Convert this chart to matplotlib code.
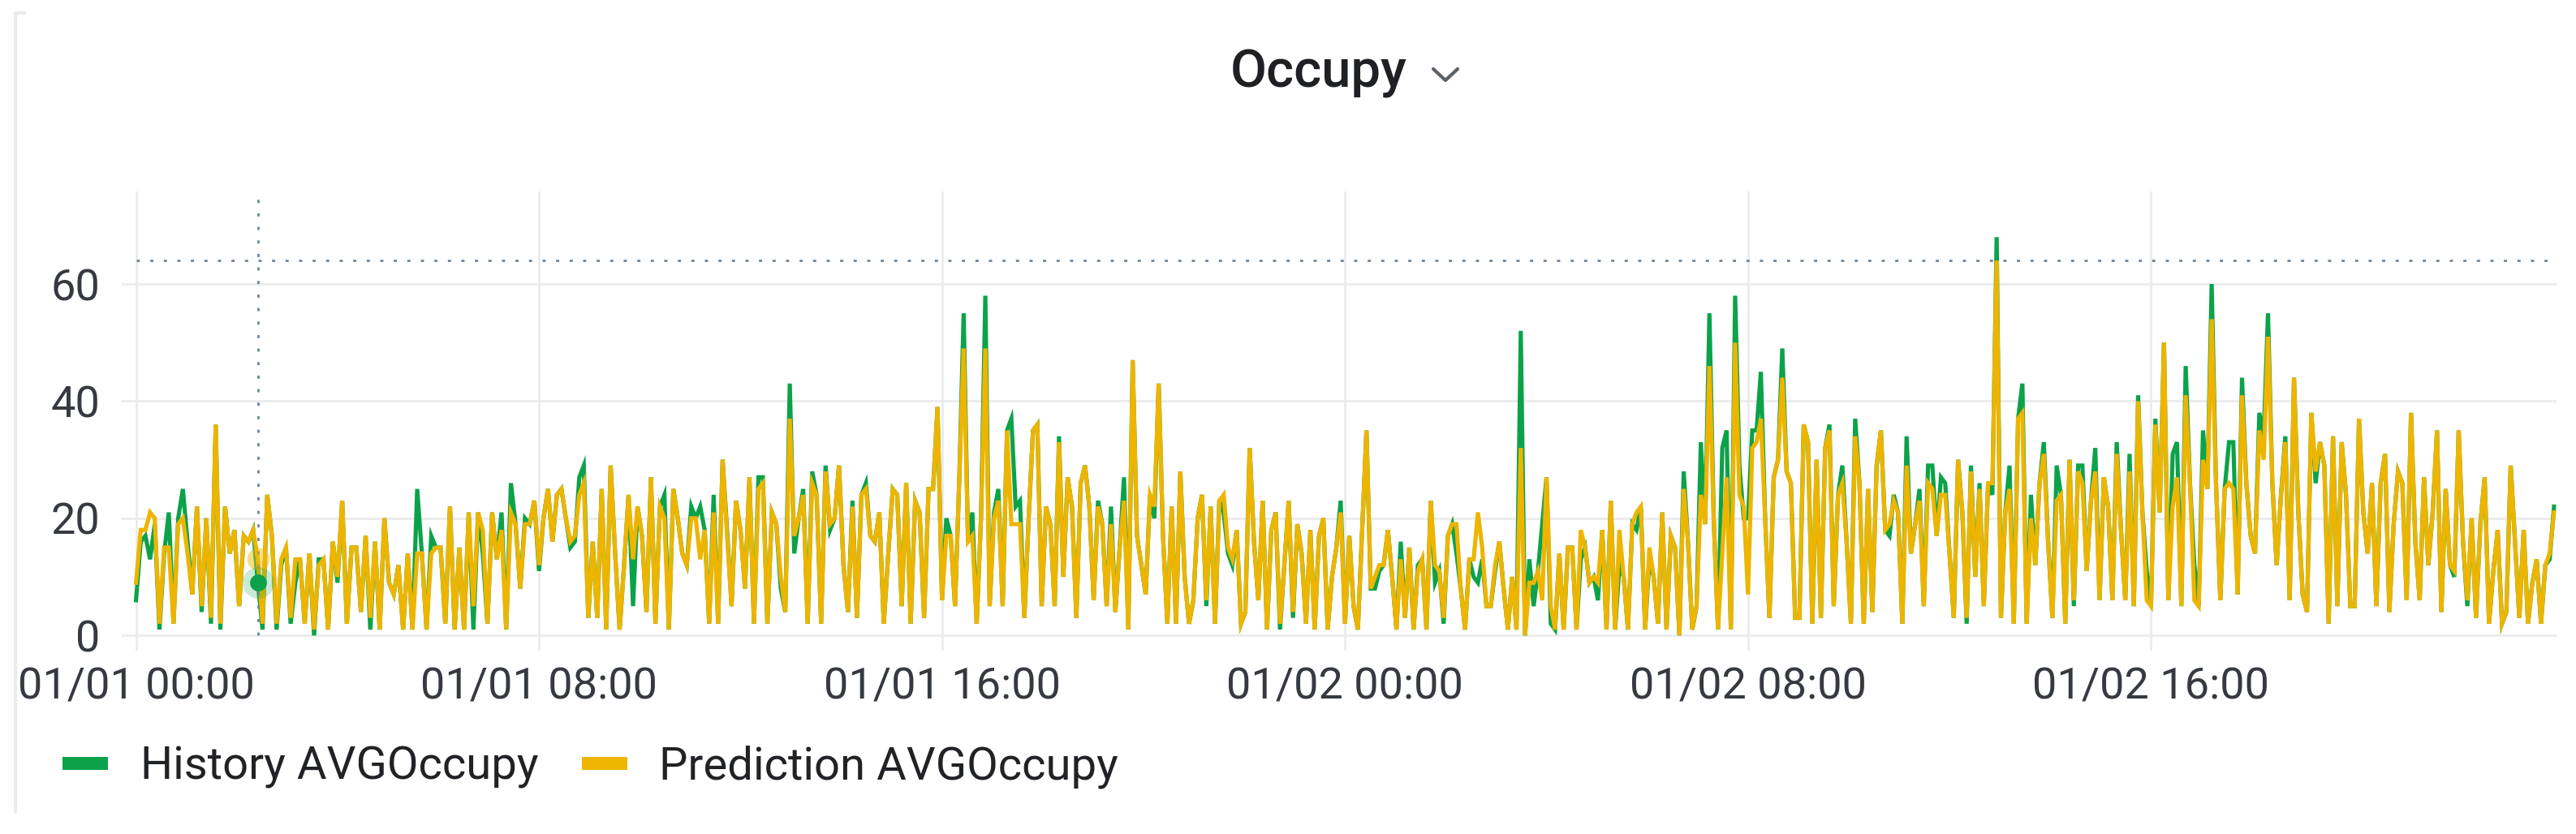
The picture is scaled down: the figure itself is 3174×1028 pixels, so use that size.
import pandas as pd
import matplotlib
matplotlib.use('Agg')
import matplotlib.pyplot as plt
import matplotlib.dates as mdates
from matplotlib.lines import Line2D

plt.rcParams['font.family'] = ['Roboto', 'DejaVu Sans']

W, H, DPI = 3174, 1028, 100

# values, one list per 8 hour block (01/01 00:00 -> 01/03 00:00)
hist_00 = [6, 16, 17, 13, 19, 1, 14, 21, 2, 20, 25, 16, 7, 22, 4, 20, 2, 36, 1, 22,
           14, 18, 5, 17, 16, 18, 9, 1, 24, 17, 1, 12, 15, 2, 9, 13, 2, 14, 0, 13,
           13, 1, 16, 9, 23, 2, 15, 15, 4, 17, 1, 16, 1, 20, 9, 7, 12, 1, 14, 1,
           25, 14, 1, 17, 15, 15, 2, 22, 1, 15, 1, 21, 1, 21, 14, 2, 21, 13, 21, 1,
           26, 19, 8, 20, 19, 23]
pred_00 = [9, 18, 18, 21, 20, 2, 15, 15, 2, 19, 20, 14, 7, 22, 5, 20, 3, 36, 2, 22,
           14, 18, 5, 17, 16, 18, 13, 2, 24, 17, 2, 13, 15, 3, 13, 13, 2, 14, 1, 12,
           13, 1, 16, 10, 23, 2, 15, 15, 4, 17, 3, 16, 1, 20, 9, 7, 12, 1, 14, 1,
           14, 14, 1, 14, 15, 15, 2, 22, 1, 15, 1, 21, 5, 21, 18, 2, 21, 13, 18, 1,
           21, 19, 8, 19, 19, 23]

hist_08 = [11, 20, 25, 16, 24, 25, 20, 15, 16, 27, 29, 3, 16, 3, 25, 1, 29, 14, 1, 12,
           24, 5, 22, 17, 4, 27, 2, 22, 24, 1, 25, 20, 14, 12, 22, 20, 22, 18, 2, 24,
           2, 30, 18, 5, 23, 18, 8, 27, 2, 27, 27, 2, 21, 19, 8, 4, 43, 14, 20, 25,
           2, 28, 24, 2, 29, 18, 20, 29, 12, 4, 23, 3, 24, 26, 17, 16, 21, 2, 14, 25,
           24, 5, 26, 2, 23, 21, 3, 25, 25, 39]
pred_08 = [12, 20, 25, 16, 24, 25, 20, 16, 17, 24, 26, 3, 16, 3, 25, 1, 29, 14, 1, 12,
           24, 13, 22, 17, 4, 27, 2, 22, 20, 1, 25, 20, 14, 12, 20, 20, 13, 18, 2, 21,
           2, 30, 17, 5, 23, 18, 8, 27, 2, 25, 26, 2, 21, 19, 10, 4, 37, 17, 20, 24,
           2, 26, 24, 2, 28, 19, 20, 29, 12, 4, 22, 3, 24, 25, 17, 16, 21, 2, 14, 25,
           24, 5, 26, 2, 23, 21, 3, 25, 25, 39]

hist_16 = [6, 20, 17, 5, 27, 55, 16, 21, 2, 20, 58, 5, 21, 25, 5, 35, 37, 22, 23, 3,
           20, 35, 36, 5, 22, 19, 5, 34, 10, 27, 22, 3, 26, 29, 22, 6, 23, 19, 5, 22,
           4, 15, 27, 1, 47, 17, 12, 7, 24, 20, 43, 17, 2, 22, 2, 28, 10, 2, 6, 20,
           24, 5, 22, 2, 23, 21, 14, 12, 18, 2, 4, 32, 16, 6, 23, 1, 18, 21, 1, 12,
           23, 3, 19, 14, 2, 18, 1, 17, 20, 1, 10, 15, 23]
pred_16 = [6, 17, 17, 5, 27, 49, 16, 17, 2, 20, 49, 5, 20, 23, 5, 35, 19, 19, 19, 3,
           20, 35, 36, 5, 22, 19, 5, 33, 10, 27, 22, 3, 26, 29, 22, 6, 22, 19, 5, 19,
           4, 15, 23, 1, 47, 17, 12, 7, 24, 22, 43, 17, 2, 22, 2, 28, 10, 2, 6, 20,
           24, 6, 22, 2, 23, 24, 15, 13, 18, 2, 4, 32, 16, 6, 23, 1, 18, 21, 2, 12,
           23, 4, 19, 14, 2, 18, 1, 17, 20, 1, 10, 15, 21]

hist_24 = [2, 17, 5, 1, 18, 35, 8, 8, 11, 12, 18, 10, 1, 16, 3, 15, 1, 12, 13, 1,
           23, 9, 11, 2, 17, 19, 14, 8, 1, 13, 10, 9, 13, 5, 5, 11, 16, 8, 1, 10,
           1, 52, 0, 13, 5, 11, 19, 27, 2, 1, 14, 1, 15, 15, 1, 13, 15, 9, 10, 6,
           18, 1, 23, 1, 12, 10, 1, 19, 18, 22, 1, 13, 10, 2, 21, 1, 17, 15, 0, 28,
           16, 1, 5, 33, 19, 55, 20, 1, 32, 35, 1, 58, 29, 20]
pred_24 = [2, 17, 5, 1, 18, 35, 8, 10, 12, 12, 18, 10, 1, 13, 3, 15, 1, 11, 13, 1,
           23, 12, 11, 3, 17, 19, 19, 8, 1, 13, 13, 21, 15, 5, 5, 12, 16, 8, 1, 10,
           1, 32, 0, 9, 9, 11, 6, 27, 5, 1, 14, 1, 15, 15, 1, 18, 15, 9, 10, 9,
           18, 1, 23, 1, 18, 10, 1, 19, 21, 22, 1, 15, 10, 2, 21, 1, 17, 15, 0, 25,
           16, 1, 5, 24, 19, 46, 20, 1, 14, 27, 1, 50, 24, 22]

hist_32 = [20, 35, 35, 45, 20, 3, 27, 30, 49, 28, 26, 3, 3, 36, 33, 2, 30, 3, 32, 36,
           5, 24, 29, 16, 2, 37, 26, 2, 25, 4, 29, 35, 18, 17, 24, 21, 2, 34, 14, 19,
           25, 5, 29, 29, 17, 27, 26, 14, 3, 30, 21, 2, 29, 10, 26, 5, 26, 24, 68, 3,
           21, 29, 2, 37, 43, 2, 24, 12, 26, 33, 16, 3, 29, 24, 2, 30, 5, 29, 29, 11,
           23, 32, 6, 27, 22, 6, 33, 18, 6, 31, 5, 41, 21, 11]
pred_32 = [7, 32, 33, 37, 20, 3, 27, 30, 44, 28, 26, 3, 3, 36, 33, 2, 30, 3, 32, 35,
           5, 24, 26, 16, 2, 34, 26, 2, 25, 4, 29, 35, 18, 19, 23, 21, 2, 29, 14, 19,
           23, 5, 26, 25, 17, 24, 24, 14, 3, 30, 21, 3, 28, 10, 25, 5, 26, 26, 64, 3,
           21, 25, 2, 37, 38, 2, 20, 12, 26, 31, 16, 3, 23, 24, 2, 30, 6, 28, 26, 11,
           23, 28, 6, 27, 22, 6, 31, 18, 6, 28, 5, 40, 21, 6]

hist_40 = [5, 37, 21, 50, 6, 31, 33, 5, 46, 26, 12, 5, 35, 25, 60, 26, 6, 25, 33, 33,
           7, 44, 26, 17, 14, 38, 34, 55, 26, 12, 24, 34, 6, 44, 21, 7, 4, 38, 26, 33,
           29, 2, 34, 5, 33, 24, 5, 5, 37, 21, 14, 26, 5, 26, 31, 4, 19, 28, 26, 6,
           38, 16, 6, 27, 12, 21, 35, 4, 25, 12, 10, 35, 16, 5, 20, 3, 19, 27, 2, 11,
           18, 2, 4, 29, 16, 3, 18, 2, 9, 13, 2, 12, 13, 22]
pred_40 = [5, 36, 21, 50, 6, 22, 27, 5, 41, 26, 6, 5, 30, 25, 54, 26, 6, 25, 26, 25,
           7, 41, 26, 17, 14, 35, 30, 51, 26, 12, 24, 33, 6, 44, 21, 7, 4, 38, 28, 33,
           29, 2, 34, 5, 33, 24, 5, 5, 37, 21, 14, 26, 5, 26, 31, 4, 19, 28, 26, 6,
           38, 16, 6, 27, 12, 21, 35, 4, 25, 12, 11, 35, 16, 6, 20, 3, 19, 27, 2, 11,
           18, 2, 4, 29, 16, 3, 18, 2, 9, 13, 2, 12, 14, 21]

hist_blocks = [hist_00, hist_08, hist_16, hist_24, hist_32, hist_40]
pred_blocks = [pred_00, pred_08, pred_16, pred_24, pred_32, pred_40]

tick_times = pd.date_range('2024-01-01 00:00', periods=6, freq='8h')
block_edges = pd.date_range('2024-01-01 00:00', periods=7, freq='8h')

hover_idx = 26        # crosshair sits on the 27th sample of the first block
hover_y = 64          # cursor height

GREEN = '#0ca249'
YELLOW = '#edb500'

# timestamps, spread evenly over each 8 hour block
times = []
for i, blk in enumerate(hist_blocks):
    if i < len(hist_blocks) - 1:
        t = pd.date_range(block_edges[i], block_edges[i + 1], periods=len(blk) + 1)[:-1]
    else:
        t = pd.date_range(block_edges[i], block_edges[i + 1], periods=len(blk))
    times.extend(t)
times = pd.DatetimeIndex(times)
hist = sum(hist_blocks, [])
pred = sum(pred_blocks, [])

fig = plt.figure(figsize=(W / DPI, H / DPI), dpi=DPI)
fig.patch.set_facecolor('white')
ax = fig.add_axes([150 / W, 226 / H, 3000 / W, 566 / H])

ax.plot(times, hist, color=GREEN, lw=3.7, solid_joinstyle='miter', zorder=3)
ax.plot(times, pred, color=YELLOW, lw=3.7, solid_joinstyle='miter', zorder=4)

# crosshair
ht = times[hover_idx]
ax.plot([times[0], times[-1]], [hover_y, hover_y], color='#6f8599', lw=2.0,
        linestyle=(0, (1.4, 4.6)), zorder=5)
ax.plot([ht, ht], [0, 75.8], color='#6f8599', lw=2.0,
        linestyle=(0, (1.4, 4.6)), zorder=5)
ax.plot(ht, pred[hover_idx], 'o', ms=20, color=YELLOW, alpha=0.45, mec='none', zorder=6)
ax.plot(ht, hist[hover_idx], 'o', ms=28, color=GREEN, alpha=0.22, mec='none', zorder=6)
ax.plot(ht, hist[hover_idx], 'o', ms=15, color=GREEN, mec='none', zorder=7)

ax.set_xlim(pd.Timestamp('2024-01-01 00:00') - pd.Timedelta(minutes=17),
            pd.Timestamp('2024-01-03 00:00') + pd.Timedelta(minutes=3))
ax.set_ylim(-2.6, 75.8)
ax.set_xticks(tick_times)
ax.xaxis.set_major_formatter(mdates.DateFormatter('%m/%d %H:%M'))
ax.set_yticks([0, 20, 40, 60])
ax.grid(True, color='#ebebeb', lw=2.0)
ax.set_axisbelow(True)
for s in ax.spines.values():
    s.set_visible(False)
ax.tick_params(axis='both', length=0, labelsize=39, labelcolor='#363a40')
ax.tick_params(axis='x', pad=14)
ax.tick_params(axis='y', pad=19)

# title and chevron
fig.text(1625 / W, 1 - 90 / H, 'Occupy', ha='center', va='center', fontsize=47,
         fontweight='medium', color='#1e2024')
fig.add_artist(Line2D([1766 / W, 1781 / W, 1796 / W], [1 - 85 / H, 1 - 99 / H, 1 - 85 / H],
                      color='#5b6068', lw=3, solid_capstyle='round',
                      solid_joinstyle='round'))

# panel border, left edge only is visible in the crop
fig.add_artist(Line2D([19 / W, 19 / W, 30 / W], [1 - 1000 / H, 1 - 16 / H, 1 - 16 / H],
                      color='#ebebeb', lw=3))

handles = [Line2D([], [], color=GREEN, lw=11.5, solid_capstyle='butt'),
           Line2D([], [], color=YELLOW, lw=11.5, solid_capstyle='butt')]
fig.legend(handles, ['History AVGOccupy', 'Prediction AVGOccupy'], loc='center left',
           bbox_to_anchor=(77 / W, 1 - 945 / H), ncol=2, frameon=False, fontsize=40.5,
           handlelength=1.0, handletextpad=0.7, columnspacing=0.95,
           borderpad=0, borderaxespad=0, labelcolor='#202226')

fig.savefig('out.png', dpi=DPI, facecolor='white')
